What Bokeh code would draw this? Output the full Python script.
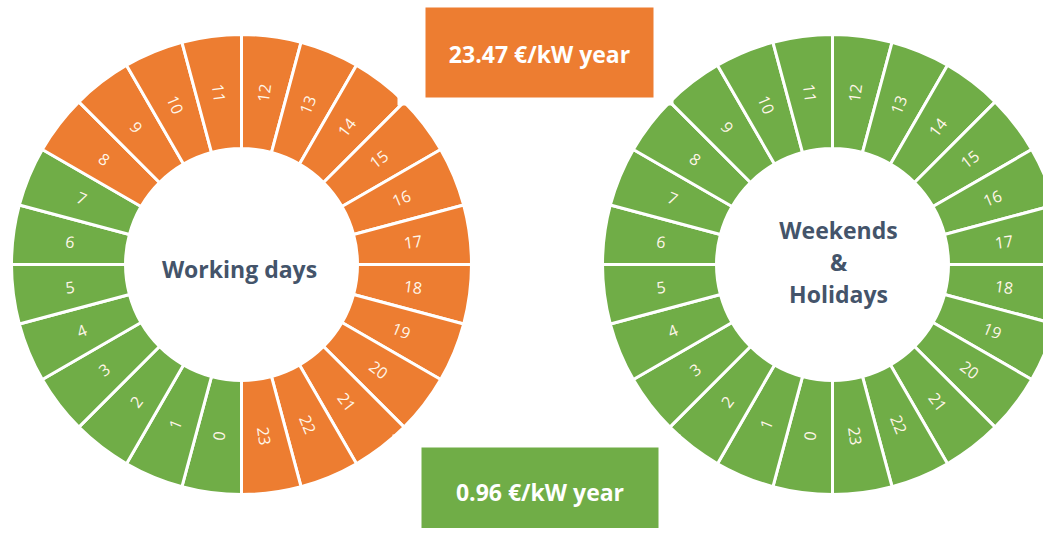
import math
from bokeh.plotting import figure
from bokeh.models import Range1d, ColumnDataSource
from bokeh.core.properties import value
from bokeh.embed import file_html
from bokeh.resources import INLINE

# ---- data ----
hours = list(range(24))
working_band = ["off"] * 8 + ["peak"] * 16      # 0-7 off-peak, 8-23 peak
weekend_band = ["off"] * 24                      # all off-peak
peak_price = "23.47 €/kW year"
offpeak_price = "0.96 €/kW year"
center_titles = [["Working days"], ["Weekends", "&", "Holidays"]]

ORANGE = "#ED7D31"
GREEN = "#70AD47"
band_color = {"peak": ORANGE, "off": GREEN}
TITLE_COLOR = "#44546A"
LABEL_COLOR = "#FFF6E8"

W, H = 1043, 528
p = figure(width=W, height=H, output_backend="svg", toolbar_location=None,
           x_range=Range1d(0, W), y_range=Range1d(536 - H, 536),
           min_border=0, outline_line_color=None)
p.axis.visible = False
p.grid.visible = False
p.background_fill_color = "white"
p.border_fill_color = "white"

def Y(ypix):
    return 536 - ypix

R_IN, R_OUT, R_LAB = 116, 230, 173

def donut(cx, cy, bands):
    starts, ends, colors, lx, ly, la, txt = [], [], [], [], [], [], []
    for h, b in zip(hours, bands):
        s = ((h - 12) * 15) % 360          # clockwise from top
        starts.append(math.radians(90 - s - 15))
        ends.append(math.radians(90 - s))
        colors.append(band_color[b])
        m = s + 7.5
        a = 90 - m
        rot = a + 180 if m > 180 else a
        lx.append(cx + R_LAB * math.cos(math.radians(a)))
        ly.append(cy + R_LAB * math.sin(math.radians(a)))
        la.append(math.radians(rot))
        txt.append(str(h))
    src = ColumnDataSource(dict(s=starts, e=ends, c=colors))
    p.annular_wedge(x=cx, y=cy, inner_radius=R_IN, outer_radius=R_OUT,
                    start_angle="s", end_angle="e", fill_color="c",
                    line_color="white", line_width=3, source=src)
    lsrc = ColumnDataSource(dict(x=lx, y=ly, a=la, t=txt))
    p.text(x="x", y="y", text="t", angle="a", source=lsrc,
           text_align="center", text_baseline="middle",
           text_color=LABEL_COLOR, text_font=value("Open Sans"),
           text_font_size="16px")

donut(241, Y(264), working_band)
donut(832, Y(264), weekend_band)

# white masks behind the price boxes
p.quad(left=[397, 392], right=[673, 680], bottom=[Y(105), Y(536)], top=[Y(0), Y(434)],
       fill_color="white", line_color=None)

# price boxes
p.quad(left=[425], right=[653], bottom=[Y(97)], top=[Y(7)], fill_color=ORANGE, line_color=None)
p.quad(left=[421], right=[658], bottom=[Y(533)], top=[Y(447)], fill_color=GREEN, line_color=None)
p.text(x=[539, 539.5], y=[Y(53), Y(491)], text=[peak_price, offpeak_price],
       text_align="center", text_baseline="middle", text_color="white",
       text_font=value("Open Sans"), text_font_style="bold", text_font_size="23px")

# centre titles
p.text(x=[239], y=[Y(268)], text=center_titles[0], text_align="center",
       text_baseline="middle", text_color=TITLE_COLOR, text_font=value("Open Sans"),
       text_font_style="bold", text_font_size="23px")
ys = [229, 261, 293]
p.text(x=[838] * 3, y=[Y(v) for v in ys], text=center_titles[1], text_align="center",
       text_baseline="middle", text_color=TITLE_COLOR, text_font=value("Open Sans"),
       text_font_style="bold", text_font_size="23px")

open("out.html", "w").write(file_html(p, INLINE))
